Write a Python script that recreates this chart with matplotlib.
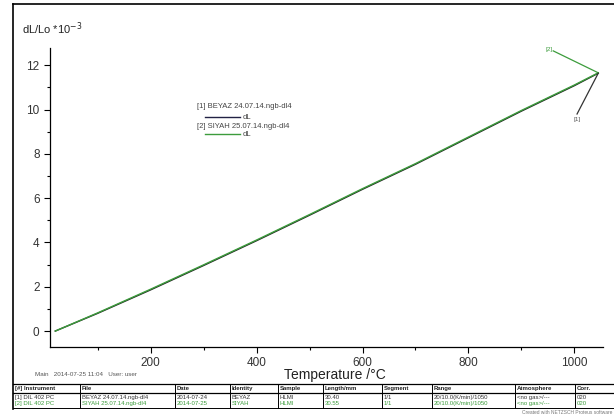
import matplotlib
matplotlib.use("Agg")
import matplotlib.pyplot as plt
from matplotlib.lines import Line2D
from matplotlib.ticker import MultipleLocator

plt.rcParams['font.family'] = ['Liberation Sans', 'DejaVu Sans']

# ---- data ----
temp1 = [20, 100, 200, 300, 400, 500, 600, 700, 800, 900, 1000, 1045]
dl1 = [0.0, 0.80, 1.86, 2.96, 4.08, 5.23, 6.40, 7.53, 8.73, 9.93, 11.08, 11.64]
temp2 = [20, 100, 200, 300, 400, 500, 600, 700, 800, 900, 1000, 1045]
dl2 = [0.0, 0.82, 1.89, 2.99, 4.11, 5.26, 6.43, 7.56, 8.76, 9.96, 11.11, 11.66]
series_names = ["[1] BEYAZ 24.07.14.ngb-dl4", "[2] SIYAH 25.07.14.ngb-dl4"]
x_ticks = [200, 400, 600, 800, 1000]
y_ticks = [0, 2, 4, 6, 8, 10, 12]

table_header = ["[#] Instrument", "File", "Date", "Identity", "Sample",
                "Length/mm", "Segment", "Range", "Atmosphere", "Corr."]
table_rows = [
    ["[1] DIL 402 PC", "BEYAZ 24.07.14.ngb-dl4", "2014-07-24", "BEYAZ", "HLMI",
     "30.40", "1/1", "20/10.0(K/min)/1050", "<no gas>/---", "020"],
    ["[2] DIL 402 PC", "SIYAH 25.07.14.ngb-dl4", "2014-07-25", "SIYAH", "HLMI",
     "30.55", "1/1", "20/10.0(K/min)/1050", "<no gas>/---", "020"],
]

W, H = 614, 415
GREEN = '#3c9c3c'
fig = plt.figure(figsize=(W / 100, H / 100), dpi=100)


def fx(px):
    return px / W


def fy(py):
    return 1 - py / H


ax = fig.add_axes([fx(50), fy(347), fx(603) - fx(50), fy(48) - fy(347)])
ax.plot(temp1, dl1, color='#222222', lw=1.0)
ax.plot(temp2, dl2, color=GREEN, lw=1.0)

ax.set_xlim(10, 1054)
ax.set_ylim(-0.72, 12.78)
ax.set_xticks(x_ticks)
ax.set_yticks(y_ticks)
ax.xaxis.set_minor_locator(MultipleLocator(100))
ax.yaxis.set_minor_locator(MultipleLocator(1))
ax.tick_params(which='major', direction='out', length=4, width=0.8,
               labelsize=8.5, labelcolor='#333333')
ax.tick_params(which='minor', direction='out', length=2.5, width=0.8)
for s in ['top', 'right']:
    ax.spines[s].set_visible(False)
for s in ['left', 'bottom']:
    ax.spines[s].set_linewidth(0.9)

# annotations at curve end
xe, ye = temp2[-1], dl2[-1]
ax.plot([xe, 960], [ye, 12.65], color=GREEN, lw=0.9, clip_on=False)
ax.text(958, 12.7, "[2]", fontsize=4.5, color=GREEN, ha='right', va='center')
ax.plot([temp1[-1], 1005], [dl1[-1], 9.8], color='#333333', lw=0.9, clip_on=False)
ax.text(1005, 9.55, "[1]", fontsize=4.5, color='#555555', ha='center', va='center')

ax.set_xlabel("Temperature /°C", fontsize=10, color='#222222')
ax.xaxis.set_label_coords(0.515, -0.07)

fig.text(fx(22), fy(29), r"dL/Lo *10$^{-3}$", fontsize=8, color='#222222',
         va='center', ha='left')

# legend
lg_font = 5.5
fig.text(fx(197), fy(106), series_names[0], fontsize=lg_font, color='#444444', va='center')
fig.add_artist(Line2D([fx(205), fx(240)], [fy(117), fy(117)], color='#222244', lw=1.0))
fig.text(fx(243), fy(117), "dL", fontsize=lg_font, color='#444444', va='center')
fig.text(fx(197), fy(126), series_names[1], fontsize=lg_font, color='#444444', va='center')
fig.add_artist(Line2D([fx(205), fx(240)], [fy(134), fy(134)], color=GREEN, lw=1.0))
fig.text(fx(243), fy(134), "dL", fontsize=lg_font, color='#444444', va='center')

# outer frame
fig.add_artist(Line2D([fx(13), fx(614)], [fy(4), fy(4)], color='black', lw=1.2))
fig.add_artist(Line2D([fx(13), fx(13)], [fy(4), fy(409)], color='black', lw=1.2))

fig.text(fx(35), fy(374), "Main   2014-07-25 11:04   User: user", fontsize=4.5,
         color='#555555', va='center')

# table
col_x = [13, 80, 175, 230, 278, 323, 382, 432, 515, 575, 614]
ty_top, ty_hdr, ty_r1, ty_r2, ty_bot = 384, 392.5, 397.5, 403.5, 408
for y in (ty_top, ty_hdr):
    fig.add_artist(Line2D([fx(13), fx(614)], [fy(y), fy(y)], color='black', lw=0.9))
fig.add_artist(Line2D([fx(13), fx(614)], [fy(ty_bot), fy(ty_bot)], color='black', lw=0.7))
for cx in col_x[1:-1]:
    fig.add_artist(Line2D([fx(cx), fx(cx)], [fy(ty_top), fy(ty_bot)], color='black', lw=0.7))
tf = 4.3
for i, h in enumerate(table_header):
    fig.text(fx(col_x[i] + 2), fy((ty_top + ty_hdr) / 2), h, fontsize=tf,
             color='#222222', va='center', weight='bold')
for r, row in enumerate(table_rows):
    yy = ty_r1 if r == 0 else ty_r2
    col = '#333333' if r == 0 else GREEN
    for i, v in enumerate(row):
        fig.text(fx(col_x[i] + 2), fy(yy), v, fontsize=tf, color=col, va='center')

fig.text(fx(612), fy(412), "Created with NETZSCH Proteus software", fontsize=3.5,
         color='#777777', ha='right', va='center')

fig.savefig("out.png", dpi=100)
